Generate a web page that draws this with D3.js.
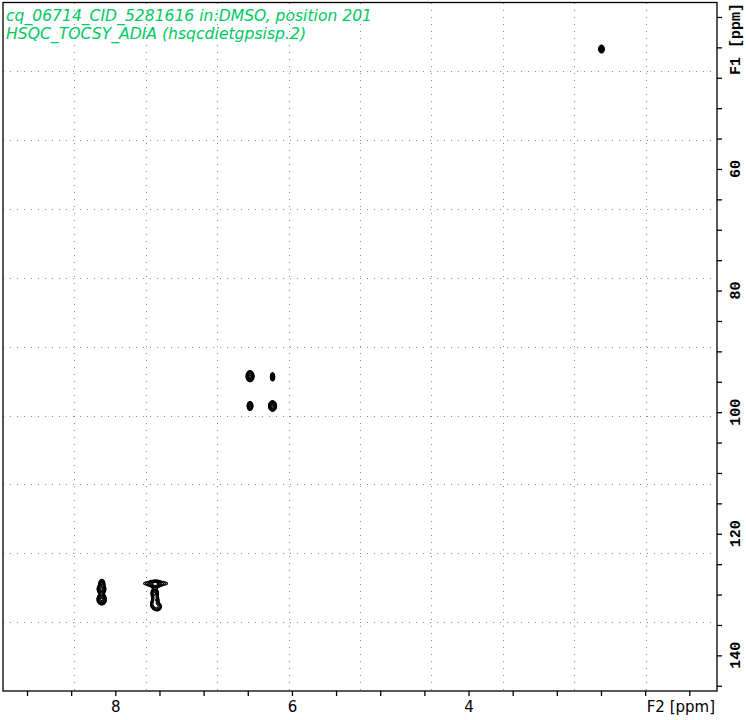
<!DOCTYPE html>
<html><head><meta charset="utf-8">
<script src="https://cdn.jsdelivr.net/npm/d3@7"></script>
<style>html,body{margin:0;padding:0;background:#fff;} svg{display:block;}</style>
</head><body>
<script>
// ---------- data ----------
const titleLines = ["cq_06714_CID_5281616 in:DMSO, position 201", "HSQC_TOCSY_ADIA (hsqcdietgpsisp.2)"];
const f2Domain = [9.272, 1.186];   // ppm, left -> right
const f1Domain = [32.62, 145.86];  // ppm, top -> bottom
const f2Ticks = [9, 8.5, 8, 7.5, 7, 6.5, 6, 5.5, 5, 4.5, 4, 3.5, 3, 2.5, 2, 1.5];
const f2Labels = [8, 6, 4];
const f1Ticks = [35, 40, 45, 50, 55, 60, 65, 70, 75, 80, 85, 90, 95, 100, 105, 110, 115, 120, 125, 130, 135, 140, 145];
const f1Labels = [60, 80, 100, 120, 140];
// cross peaks (F2 ppm, F1 ppm, relative intensity, widths in ppm)
const peakF2  = [2.50, 6.48, 6.225, 6.48, 6.225, 8.158, 8.162, 8.160, 7.55, 7.555, 7.56, 7.552, 7.535, 7.575];
const peakF1  = [40.2, 94.0, 94.1, 98.9, 98.9, 128.0, 129.0, 130.7, 128.1, 128.2, 129.7, 130.8, 131.9, 131.5];
const peakAmp = [0.9, 1.0, 0.7, 0.75, 1.0, 0.7, 1.0, 1.0, 0.34, 0.9, 0.75, 0.6, 0.55, 0.35];
const peakWF2 = [0.015, 0.022, 0.013, 0.017, 0.022, 0.017, 0.024, 0.026, 0.095, 0.030, 0.022, 0.022, 0.030, 0.020];
const peakWF1 = [0.32, 0.44, 0.36, 0.38, 0.42, 0.30, 0.42, 0.45, 0.30, 0.30, 0.45, 0.40, 0.40, 0.35];
const contourLevels = [0.12, 0.16, 0.21, 0.28, 0.37, 0.5, 0.66, 0.88];

// ---------- layout ----------
const W = 746, H = 720;
const L = 3, R = 717, T = 2.5, B = 691;
const svg = d3.select("body").append("svg").attr("width", W).attr("height", H);

const x = d3.scaleLinear().domain(f2Domain).range([L, R]);
const y = d3.scaleLinear().domain(f1Domain).range([T, B]);

// grid (10 divisions of the plot area)
const gridG = svg.append("g").attr("stroke", "#8a8a8a").attr("stroke-width", 1)
  .attr("stroke-dasharray", "1,6").attr("shape-rendering", "crispEdges");
d3.range(1, 10).forEach(k => {
  const gx = Math.round(L + (R - L) * k / 10) + 0.5;
  const gy = Math.round(T + (B - T) * k / 10) + 0.5;
  gridG.append("line").attr("x1", gx).attr("x2", gx).attr("y1", T).attr("y2", B);
  gridG.append("line").attr("x1", L).attr("x2", R).attr("y1", gy).attr("y2", gy);
});

// contours from peaks
const n = Math.round(R - L), m = Math.round(B - T);
const values = new Float64Array(n * m);
peakF2.forEach((p2, k) => {
  const cx = x(p2) - L, cy = y(peakF1[k]) - T;
  const sx = Math.abs(x(p2 + peakWF2[k]) - x(p2));
  const sy = Math.abs(y(peakF1[k] + peakWF1[k]) - y(peakF1[k]));
  const j0 = Math.max(0, Math.floor(cx - 6 * sx)), j1 = Math.min(n - 1, Math.ceil(cx + 6 * sx));
  const i0 = Math.max(0, Math.floor(cy - 6 * sy)), i1 = Math.min(m - 1, Math.ceil(cy + 6 * sy));
  for (let i = i0; i <= i1; i++) {
    for (let j = j0; j <= j1; j++) {
      const dx = (j - cx) / sx, dy = (i - cy) / sy;
      values[i * n + j] += peakAmp[k] * Math.exp(-0.5 * (dx * dx + dy * dy));
    }
  }
});
const contours = d3.contours().size([n, m]).thresholds(contourLevels)(values);
svg.append("defs").append("clipPath").attr("id", "clip")
  .append("rect").attr("x", L).attr("y", T).attr("width", R - L).attr("height", B - T);
svg.append("g").attr("clip-path", "url(#clip)")
  .append("g").attr("transform", `translate(${L},${T})`)
  .selectAll("path").data(contours).join("path")
  .attr("d", d3.geoPath())
  .attr("fill", "none").attr("stroke", "#000").attr("stroke-width", 1.1);

// frame
svg.append("rect").attr("x", L).attr("y", T).attr("width", R - L).attr("height", B - T)
  .attr("fill", "none").attr("stroke", "#000").attr("stroke-width", 1.3);

// bottom axis (F2)
const xAxis = d3.axisBottom(x).tickValues(f2Ticks).tickSize(5).tickFormat(d => f2Labels.includes(d) ? d : "");
const gx = svg.append("g").attr("transform", `translate(0,${B})`).call(xAxis);
gx.select(".domain").remove();
gx.selectAll(".tick line").attr("stroke", "#000").attr("stroke-width", 1.3);
gx.selectAll(".tick text").attr("font-family", "DejaVu Sans").attr("font-size", 15)
  .attr("fill", "#000").attr("dy", 0).attr("y", 21);
svg.append("text").attr("x", 715).attr("y", 712).attr("text-anchor", "end")
  .attr("font-family", "DejaVu Sans").attr("font-size", 15).attr("fill", "#000").text("F2 [ppm]");

// right axis (F1)
const yAxis = d3.axisRight(y).tickValues(f1Ticks).tickSize(5).tickFormat("");
const gy = svg.append("g").attr("transform", `translate(${R},0)`).call(yAxis);
gy.select(".domain").remove();
gy.selectAll(".tick line").attr("stroke", "#000").attr("stroke-width", 1.3);
svg.append("g").selectAll("text").data(f1Labels).join("text")
  .attr("transform", d => `translate(740,${y(d)}) rotate(-90)`)
  .attr("text-anchor", "middle")
  .attr("font-family", "Liberation Mono").attr("font-weight", "bold").attr("font-size", 15).attr("fill", "#000")
  .text(d => d);
svg.append("text").attr("transform", `translate(740,${39}) rotate(-90)`)
  .attr("text-anchor", "middle")
  .attr("font-family", "Liberation Mono").attr("font-weight", "bold").attr("font-size", 15).attr("fill", "#000")
  .text("F1 [ppm]");

// title
const titleWidths = [366, 300];
svg.append("g").selectAll("text").data(titleLines).join("text")
  .attr("x", 6).attr("y", (d, i) => 21 + i * 18)
  .attr("font-family", "DejaVu Sans").attr("font-style", "italic").attr("font-size", 15)
  .attr("fill", "#00c864")
  .attr("textLength", (d, i) => titleWidths[i]).attr("lengthAdjust", "spacingAndGlyphs")
  .text(d => d);
</script>
</body></html>
